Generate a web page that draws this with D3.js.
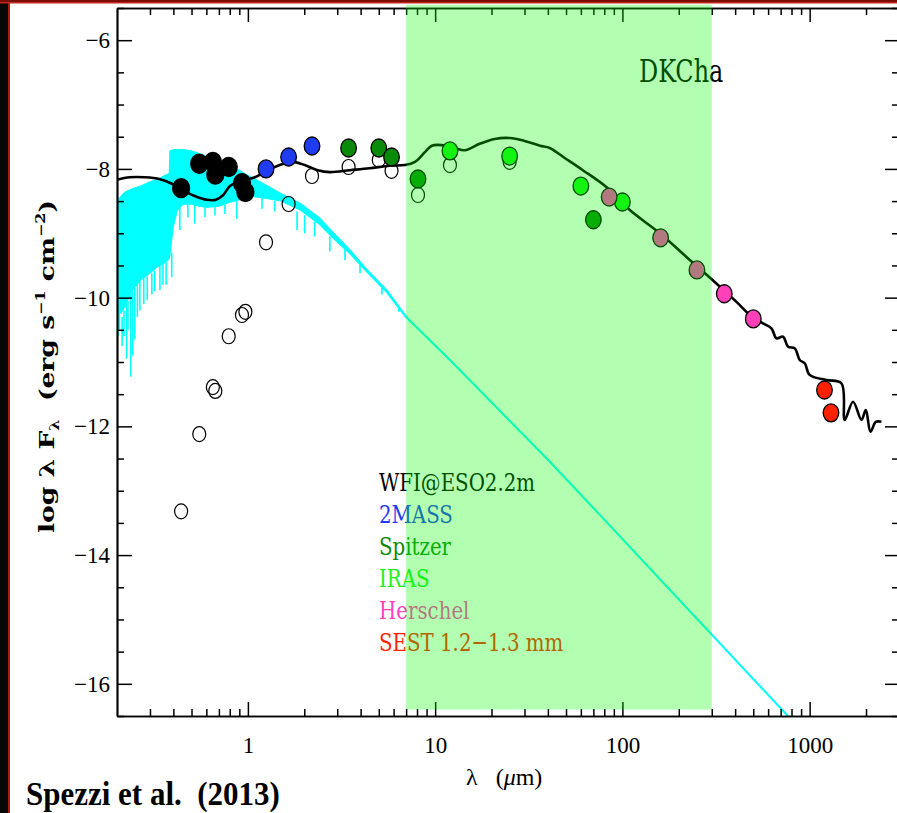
<!DOCTYPE html>
<html><head><meta charset="utf-8">
<script src="https://cdn.jsdelivr.net/npm/d3@7"></script>
<style>
html,body{margin:0;padding:0;background:#fff;}
svg{display:block;}
text{font-family:"Liberation Serif","Times New Roman",serif;white-space:pre;}
</style></head><body>
<svg id="chart" width="897" height="813"></svg>
<script>
// ---- photometry: wavelength (µm), log λF_λ dereddened, log λF_λ observed ----
const wfiWave = [0.44, 0.55, 0.65, 0.67, 0.79, 0.93, 0.97];
const wfiFlux = [-8.30, -7.92, -7.89, -8.09, -7.97, -8.22, -8.36];
const wfiObs  = [-13.32, -12.12, -11.39, -11.45, -10.60, -10.27, -10.22];

const tmassWave = [1.25, 1.65, 2.2];
const tmassFlux = [-8.00, -7.815, -7.644];
const tmassObs  = [-9.14, -8.545, -8.11];

const spitzerWave = [3.45, 5.0, 5.85, 8.1, 70];
const spitzerFlux = [-7.675, -7.675, -7.815, -8.157, -8.79];
const spitzerObs  = [-7.97, -7.86, -8.03, -8.405, null];

const irasWave = [12, 25, 60, 100];
const irasFlux = [-7.72, -7.80, -8.266, -8.514];
const irasObs  = [-7.94, -7.89, null, null];

const herschelWave = [85, 160, 250, 350, 500];
const herschelFlux = [-8.437, -9.07, -9.57, -9.94, -10.33];

const sestWave = [1200, 1300];
const sestFlux = [-11.435, -11.79];

// ---- legend ----
const legendLabels = ["WFI@ESO2.2m", "2MASS", "Spitzer", "IRAS", "Herschel", "SEST 1.2\u22121.3 mm"];
const legendColors = ["#000000", "#1f3cf0", "#0a8a0a", "#1cf01c", "#ff40b8", "#ff2200"];

// ---- stellar photosphere (synthetic spectrum): continuum band ----
const photWave = [0.2, 0.21, 0.22, 0.24, 0.27, 0.3, 0.33, 0.36, 0.38, 0.383, 0.4, 0.42, 0.45, 0.5, 0.55, 0.6, 0.7, 0.8, 0.9, 1.0, 1.2, 1.5, 1.9, 2.4, 2.85, 3.5, 4.3, 5.5, 7];
const photTop  = [-8.5, -8.42, -8.36, -8.31, -8.26, -8.2, -8.16, -8.1, -8.07, -7.72, -7.70, -7.70, -7.70, -7.72, -7.76, -7.80, -7.88, -7.95, -8.02, -8.10, -8.22, -8.38, -8.53, -8.75, -8.98, -9.25, -9.55, -9.87, -10.28];
const photBot  = [-10.1, -10.25, -10.15, -9.9, -9.72, -9.62, -9.52, -9.46, -9.4, -9.35, -8.9, -8.65, -8.55, -8.55, -8.58, -8.6, -8.58, -8.52, -8.48, -8.42, -8.45, -8.5, -8.64, -8.86, -9.08, -9.32, -9.6, -9.92, -10.32];
// strong absorption features: wavelength, start and end of each dip
const lineWave = [0.203, 0.206, 0.213, 0.218, 0.225, 0.229, 0.237, 0.243, 0.249, 0.257, 0.265, 0.278, 0.29, 0.307, 0.318, 0.339, 0.352, 0.366, 0.392, 0.433, 0.478, 0.52, 0.59, 0.667, 0.754, 0.873, 1.19, 1.39, 1.83, 2.01, 2.27, 2.74, 3.3, 3.97, 5.2, 6.4];
const lineFrom = [-10.1, -10.2, -10.3, -10.2, -10.1, -10.05, -9.95, -9.9, -9.85, -9.8, -9.75, -9.7, -9.67, -9.62, -9.58, -9.5, -9.48, -9.45, -9.3, -8.6, -8.55, -8.55, -8.6, -8.58, -8.55, -8.5, -8.45, -8.5, -8.66, -8.72, -8.82, -9.05, -9.25, -9.48, -9.85, -10.15];
const lineTo   = [-10.6, -10.5, -10.75, -10.6, -10.95, -10.5, -11.23, -10.9, -10.65, -10.3, -10.2, -10.1, -10.04, -9.95, -9.9, -9.88, -9.8, -9.8, -9.68, -8.95, -8.75, -8.85, -8.75, -8.72, -8.7, -8.78, -8.62, -8.66, -8.95, -9.0, -9.05, -9.28, -9.42, -9.62, -9.95, -10.22];
// Rayleigh-Jeans tail
const photTailWave = [7, 12, 41, 76, 800];
const photTailFlux = [-10.30, -10.97, -12.55, -13.38, -16.56];

// ---- disk + star model SED ----
const modelWave = [0.2, 0.234, 0.282, 0.339, 0.393, 0.45, 0.52, 0.604, 0.675, 0.736, 0.80, 0.906, 1.09, 1.26, 1.48, 1.72, 2.01, 2.36, 2.74, 3.5, 4.46, 5.72, 6.9, 7.8, 8.82, 9.6, 10.85, 12.7, 14.4, 17.3, 20.8, 25, 30, 36.3, 40.9, 49.2, 61.5, 83.6, 109.5, 158.5, 229, 311, 408, 480, 564, 625, 665, 721, 767, 832, 885, 941, 1000, 1229, 1478, 1539, 1705, 1891, 1995, 2113, 2255, 2417];
const modelFlux = [-8.17, -8.13, -8.13, -8.16, -8.23, -8.33, -8.42, -8.48, -8.48, -8.41, -8.27, -8.19, -8.13, -8.03, -7.94, -7.89, -7.94, -8.02, -8.05, -8.02, -7.99, -7.95, -7.94, -7.89, -7.74, -7.64, -7.63, -7.675, -7.71, -7.61, -7.535, -7.52, -7.565, -7.64, -7.675, -7.83, -8.02, -8.30, -8.64, -9.0, -9.415, -9.757, -10.07, -10.27, -10.40, -10.477, -10.632, -10.607, -10.762, -10.787, -10.969, -11.02, -11.20, -11.28, -11.33, -11.90, -11.617, -11.90, -11.746, -12.083, -11.93, -11.93];

// ---- axes ----
const xMajorTicks = [1, 10, 100, 1000];
const xTickLabels = ["1", "10", "100", "1000"];
const yMajorTicks = [-6, -8, -10, -12, -14, -16];
const yTickLabels = ["\u22126", "\u22128", "\u221210", "\u221212", "\u221214", "\u221216"];

// ---- highlighted wavelength range (µm) ----
const bandRange = [7, 300];

const svg = d3.select("#chart");
const W = 897, H = 813;
const x = d3.scaleLog().domain([0.2, 3000]).range([117, 899]);
const y = d3.scaleLinear().domain([-16.5, -5.5]).range([716, 8]);

svg.append("rect").attr("width", W).attr("height", H).attr("fill", "#fff");

svg.append("defs").append("clipPath").attr("id", "plotClip").append("rect")
  .attr("x", x.range()[0]).attr("y", y.range()[1])
  .attr("width", x.range()[1] - x.range()[0]).attr("height", y.range()[0] - y.range()[1]);

const plot = svg.append("g").attr("clip-path", "url(#plotClip)");
const CYAN = "#00ffff";

// photosphere continuum band
plot.append("path")
  .attr("d", d3.area().x(d => x(d[0])).y0(d => y(d[2])).y1(d => y(d[1]))
    (photWave.map((w, i) => [w, photTop[i], photBot[i]])))
  .attr("fill", CYAN).attr("stroke", CYAN).attr("stroke-width", 1);
// absorption dips
plot.append("g").selectAll("line").data(lineWave.map((w, i) => [w, lineFrom[i], lineTo[i]])).join("line")
  .attr("x1", d => x(d[0])).attr("x2", d => x(d[0]))
  .attr("y1", d => y(d[1])).attr("y2", d => y(d[2]))
  .attr("stroke", CYAN).attr("stroke-width", 1.6);
// Rayleigh-Jeans tail
plot.append("path")
  .attr("d", d3.line().x(d => x(d[0])).y(d => y(d[1]))(photTailWave.map((w, i) => [w, photTailFlux[i]])))
  .attr("fill", "none").attr("stroke", CYAN).attr("stroke-width", 2);

// model SED
plot.append("path")
  .attr("d", d3.line().x(d => x(d[0])).y(d => y(d[1])).curve(d3.curveCatmullRom.alpha(0.5))
    (modelWave.map((w, i) => [w, modelFlux[i]])))
  .attr("fill", "none").attr("stroke", "#000").attr("stroke-width", 2.6)
  .attr("stroke-linejoin", "round");

// observed (not dereddened) photometry: open circles
const obsSets = [[wfiWave, wfiObs], [tmassWave, tmassObs], [spitzerWave, spitzerObs], [irasWave, irasObs]];
obsSets.forEach(([wv, fl]) => {
  const pts = wv.map((w, i) => [w, fl[i]]).filter(d => d[1] !== null);
  plot.append("g").selectAll("ellipse").data(pts).join("ellipse")
    .attr("cx", d => x(d[0])).attr("cy", d => y(d[1]))
    .attr("rx", 6.5).attr("ry", 7.5)
    .attr("fill", "none").attr("stroke", "#000").attr("stroke-width", 1.2);
});

// dereddened photometry: filled circles
const fluxSets = [
  [wfiWave, wfiFlux, legendColors[0], 8.5, 9.5],
  [tmassWave, tmassFlux, legendColors[1], 7.8, 9],
  [spitzerWave, spitzerFlux, legendColors[2], 7.8, 9],
  [irasWave, irasFlux, legendColors[3], 7.8, 9],
  [herschelWave, herschelFlux, legendColors[4], 7.8, 9],
  [sestWave, sestFlux, legendColors[5], 7.8, 9]
];
fluxSets.forEach(([wv, fl, col, rx, ry]) => {
  plot.append("g").selectAll("ellipse").data(wv.map((w, i) => [w, fl[i]])).join("ellipse")
    .attr("cx", d => x(d[0])).attr("cy", d => y(d[1]))
    .attr("rx", rx).attr("ry", ry)
    .attr("fill", col).attr("stroke", "#000").attr("stroke-width", 1.3);
});

// legend
svg.append("g").selectAll("text").data(legendLabels).join("text")
  .attr("transform", (d, i) => `translate(379,${491 + i * 32}) scale(1,1.12)`)
  .attr("fill", (d, i) => legendColors[i])
  .style("font-family", "'DejaVu Serif', serif")
  .style("font-stretch", "condensed")
  .attr("font-size", 22)
  .text(d => d);

svg.append("text").attr("transform", "translate(639,82) scale(0.95,1.15)")
  .style("font-family", "'DejaVu Serif', serif").style("font-stretch", "condensed")
  .attr("font-size", 28).attr("fill", "#000").text("DKCha");

// axes
const axG = svg.append("g");
const minorX = [];
[0.1, 1, 10, 100, 1000].forEach(dec => { for (let k = 2; k <= 9; k++) { const v = k * dec; if (v > 0.2 && v < 3000) minorX.push(v); } });
const minorY = d3.range(-16.5, -5.49, 0.5).filter(v => !yMajorTicks.includes(v));

function styleAxis(g) {
  g.select(".domain").attr("stroke", "#000").attr("stroke-width", 1.7);
  g.selectAll(".tick line").attr("stroke", "#000").attr("stroke-width", 1.5);
}
function styleLabels(g) {
  g.selectAll("text").attr("font-size", 23).attr("fill", "#000")
    .style("font-family", "'Liberation Serif', serif");
}
// bottom
axG.append("g").attr("transform", `translate(0,${y.range()[0]})`)
  .call(d3.axisBottom(x).tickValues(xMajorTicks).tickSizeInner(-14).tickSizeOuter(0)
    .tickFormat((d, i) => xTickLabels[i]).tickPadding(21))
  .call(styleAxis).call(styleLabels);
axG.append("g").attr("transform", `translate(0,${y.range()[0]})`)
  .call(d3.axisBottom(x).tickValues(minorX).tickSizeInner(-7).tickSizeOuter(0).tickFormat(""))
  .call(styleAxis);
// top
axG.append("g").attr("transform", `translate(0,${y.range()[1]})`)
  .call(d3.axisTop(x).tickValues(xMajorTicks).tickSizeInner(-14).tickSizeOuter(0).tickFormat(""))
  .call(styleAxis);
axG.append("g").attr("transform", `translate(0,${y.range()[1]})`)
  .call(d3.axisTop(x).tickValues(minorX).tickSizeInner(-7).tickSizeOuter(0).tickFormat(""))
  .call(styleAxis);
// left
axG.append("g").attr("transform", `translate(${x.range()[0]},0)`)
  .call(d3.axisLeft(y).tickValues(yMajorTicks).tickSizeInner(-15).tickSizeOuter(0)
    .tickFormat((d, i) => yTickLabels[i]).tickPadding(7))
  .call(styleAxis).call(styleLabels);
axG.append("g").attr("transform", `translate(${x.range()[0]},0)`)
  .call(d3.axisLeft(y).tickValues(minorY).tickSizeInner(-7).tickSizeOuter(0).tickFormat(""))
  .call(styleAxis);
// right
axG.append("g").attr("transform", `translate(${x.range()[1]},0)`)
  .call(d3.axisRight(y).tickValues(yMajorTicks).tickSizeInner(-14).tickSizeOuter(0).tickFormat(""))
  .call(styleAxis);
axG.append("g").attr("transform", `translate(${x.range()[1]},0)`)
  .call(d3.axisRight(y).tickValues(minorY).tickSizeInner(-7).tickSizeOuter(0).tickFormat(""))
  .call(styleAxis);

// axis titles
const xt = svg.append("text").attr("x", 466).attr("y", 785).attr("font-size", 24).attr("fill", "#000");
xt.append("tspan").text("\u03bb   (");
xt.append("tspan").attr("font-style", "italic").text("\u03bc");
xt.append("tspan").text("m)");

const yt = svg.append("text").attr("transform", "translate(54,533) rotate(-90)")
  .attr("font-size", 20).attr("font-weight", "bold").attr("fill", "#000")
  .style("font-family", "'DejaVu Serif', serif")
  .attr("textLength", 333).attr("lengthAdjust", "spacingAndGlyphs");
yt.append("tspan").text("log \u03bb F");
yt.append("tspan").attr("font-size", 12).attr("dy", 5).text("\u03bb");
yt.append("tspan").attr("dy", -5).text("  (erg s");
yt.append("tspan").attr("font-size", 12).attr("dy", -9).text("\u22121");
yt.append("tspan").attr("dy", 9).text(" cm");
yt.append("tspan").attr("font-size", 12).attr("dy", -9).text("\u22122");
yt.append("tspan").attr("dy", 9).text(")");

// translucent highlight band over the mid/far-IR range
svg.append("rect")
  .attr("x", x(bandRange[0])).attr("y", y(-5.45))
  .attr("width", x(bandRange[1]) - x(bandRange[0]))
  .attr("height", y(-16.4) - y(-5.45))
  .attr("fill", "rgb(0,255,0)").attr("fill-opacity", 0.3);

// citation
svg.append("text").attr("transform", "translate(26,805) scale(1,1.12)")
  .attr("font-size", 31).attr("font-weight", "bold")
  .attr("fill", "#000").text("Spezzi et al.  (2013)");

// outer frame
svg.append("rect").attr("x", 0).attr("y", 0).attr("width", 8).attr("height", H).attr("fill", "#070707");
svg.append("rect").attr("x", 8).attr("y", 0).attr("width", 2).attr("height", H).attr("fill", "#b01a10");
svg.append("rect").attr("x", 0).attr("y", 0).attr("width", W).attr("height", 2).attr("fill", "#7a0c04");
svg.append("rect").attr("x", 0).attr("y", 2).attr("width", W).attr("height", 1.5).attr("fill", "#c0281c");
</script>
</body></html>
